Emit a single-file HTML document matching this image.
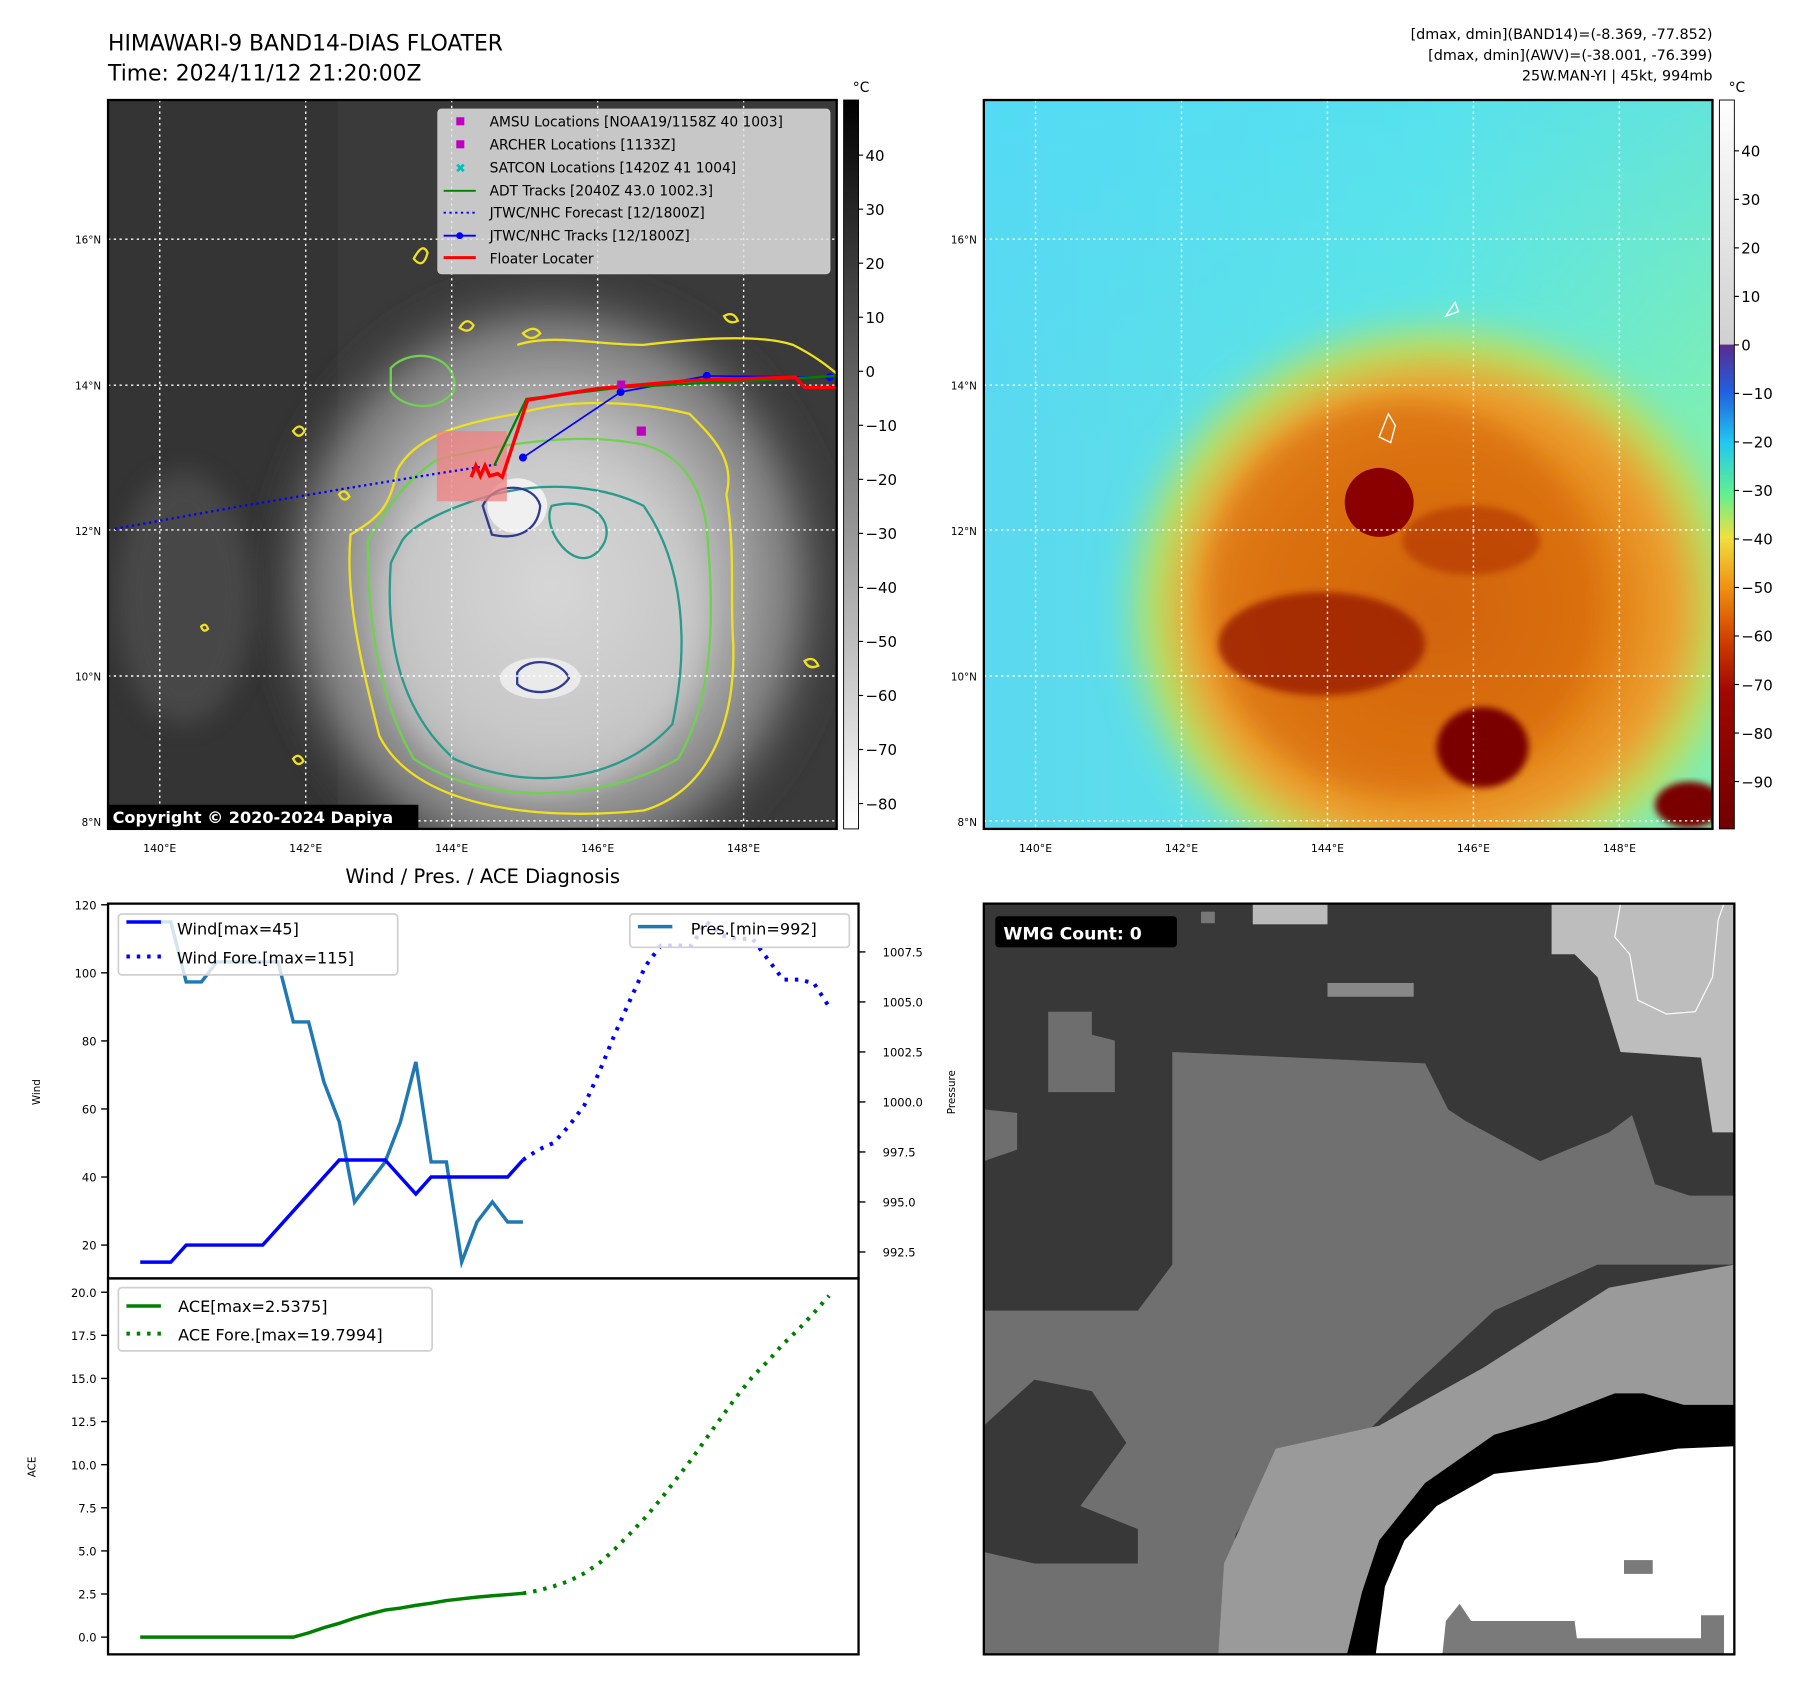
<!DOCTYPE html>
<html><head><meta charset="utf-8"><title>HIMAWARI-9 Floater</title>
<style>
html,body{margin:0;padding:0;background:#fff;}
svg{display:block;font-family:"DejaVu Sans","Liberation Sans",sans-serif;}
</style></head>
<body>
<svg id="root" width="1801" height="1690" viewBox="0 0 1567 1470" preserveAspectRatio="none" xmlns="http://www.w3.org/2000/svg">
<defs>
  <linearGradient id="cb1" x1="0" y1="0" x2="0" y2="1"><stop offset="0" stop-color="#000"/><stop offset="1" stop-color="#fff"/></linearGradient>
  <linearGradient id="cb2" x1="0" y1="0" x2="0" y2="1">
    <stop offset="0" stop-color="#ffffff"/><stop offset="0.335" stop-color="#d0d0d0"/>
    <stop offset="0.336" stop-color="#5a2a90"/><stop offset="0.40" stop-color="#2060e0"/>
    <stop offset="0.47" stop-color="#20c8f0"/><stop offset="0.54" stop-color="#60f090"/>
    <stop offset="0.60" stop-color="#f0e040"/><stop offset="0.67" stop-color="#f09010"/>
    <stop offset="0.74" stop-color="#d04000"/><stop offset="0.81" stop-color="#a00800"/>
    <stop offset="1" stop-color="#700000"/></linearGradient>
  <radialGradient id="cloud1" cx="0.5" cy="0.5" r="0.5">
    <stop offset="0" stop-color="#e0e0e0"/><stop offset="0.5" stop-color="#bdbdbd"/><stop offset="0.8" stop-color="#7a7a7a"/><stop offset="1" stop-color="#3a3a3a" stop-opacity="0"/></radialGradient>
  <radialGradient id="cloud2" cx="0.5" cy="0.5" r="0.5">
    <stop offset="0" stop-color="#c85a08"/><stop offset="0.5" stop-color="#e07c12"/><stop offset="0.72" stop-color="#eca030"/><stop offset="0.85" stop-color="#b8e060"/><stop offset="1" stop-color="#70e8c0" stop-opacity="0"/></radialGradient>
  <linearGradient id="bg2" x1="0" y1="0" x2="1" y2="0"><stop offset="0" stop-color="#5ad8f0"/><stop offset="0.6" stop-color="#60e8e0"/><stop offset="1" stop-color="#80f0b0"/></linearGradient>
  <linearGradient id="bg2top" x1="0" y1="0" x2="0" y2="1"><stop offset="0" stop-color="#50dcf8" stop-opacity="0.6"/><stop offset="1" stop-color="#50dcf8" stop-opacity="0"/></linearGradient>
  <filter id="blur8"><feGaussianBlur stdDeviation="10"/></filter>
  <filter id="blur3"><feGaussianBlur stdDeviation="3"/></filter>
  <clipPath id="clipM1"><rect x="94" y="87" width="634" height="634"/></clipPath>
  <clipPath id="clipM2"><rect x="856" y="87" width="634" height="634"/></clipPath>
  <clipPath id="clipW"><rect x="856" y="786" width="653" height="653"/></clipPath>
</defs>

<text x="94" y="44" font-size="19">HIMAWARI-9 BAND14-DIAS FLOATER</text>
<text x="94" y="70" font-size="19">Time: 2024/11/12 21:20:00Z</text>
<g font-size="12.5" text-anchor="end">
  <text x="1490" y="34">[dmax, dmin](BAND14)=(-8.369, -77.852)</text>
  <text x="1490" y="52">[dmax, dmin](AWV)=(-38.001, -76.399)</text>
  <text x="1490" y="70">25W.MAN-YI | 45kt, 994mb</text>
</g>

<!-- MAP 1 -->
<g clip-path="url(#clipM1)">
  <rect x="94" y="87" width="634" height="634" fill="#3a3a3a"/>
  <rect x="94" y="87" width="200" height="634" fill="#343434"/>
  <ellipse cx="480" cy="510" rx="260" ry="280" fill="url(#cloud1)" filter="url(#blur8)"/>
  <ellipse cx="470" cy="540" rx="140" ry="150" fill="#d0d0d0" opacity="0.5" filter="url(#blur8)"/>
  <ellipse cx="160" cy="520" rx="60" ry="110" fill="#555" opacity="0.6" filter="url(#blur8)"/>
  <ellipse cx="450" cy="440" rx="26" ry="24" fill="#f0f0f0"/>
  <ellipse cx="470" cy="590" rx="35" ry="18" fill="#eaeaea"/>
  <path d="M305,465 C300,520 315,580 330,640 C360,700 460,715 560,705 C610,690 640,640 638,560 C635,520 640,480 632,430 C640,400 620,380 600,360 C560,350 500,345 450,360 C400,368 360,380 345,410 C340,440 330,450 305,465 Z" fill="none" stroke="#f0e020" stroke-width="2"/>
  <path d="M320,470 C320,540 330,610 360,660 C420,700 520,700 590,660 C625,600 620,520 615,460 C610,420 590,390 550,385 C490,375 420,390 380,400 C350,420 335,445 320,470 Z" fill="none" stroke="#70d050" stroke-width="2"/>
  <path d="M340,490 C335,560 350,620 395,660 C460,690 540,680 585,630 C600,560 595,490 560,440 C520,420 470,420 430,430 C395,440 360,455 350,470 C345,480 342,485 340,490 Z M480,440 C470,460 500,500 520,480 C540,460 520,430 480,440 Z" fill="none" stroke="#2a9a8a" stroke-width="2"/>
  <path d="M420,440 C430,418 465,420 470,440 C468,462 450,470 428,465 Z" fill="none" stroke="#303a90" stroke-width="2"/>
  <path d="M450,585 C460,570 490,575 495,590 C485,605 460,605 450,595 Z" fill="none" stroke="#303a90" stroke-width="2"/>
  <path d="M340,320 C360,300 400,310 395,340 C380,360 350,355 340,340 Z" fill="none" stroke="#70d050" stroke-width="2"/>
  <path d="M450,300 C480,290 520,300 560,300 C600,295 660,290 690,300 C710,310 722,320 728,325" fill="none" stroke="#f0e020" stroke-width="2"/>
  <path d="M360,225 q8,-15 12,-5 q-4,15 -12,5 Z M455,290 q10,-8 15,0 q-8,8 -15,0 Z M400,285 q6,-10 12,-2 q-4,8 -12,2 Z M630,275 q8,-5 12,4 q-8,4 -12,-4 Z M255,375 q6,-8 10,0 q-5,8 -10,0 Z M295,430 q5,-6 9,2 q-5,6 -9,-2 Z M700,575 q8,-5 12,4 q-8,4 -12,-4 Z M175,545 q4,-4 6,2 q-4,4 -6,-2 Z M255,660 q5,-6 9,2 q-5,6 -9,-2 Z" fill="none" stroke="#f0e020" stroke-width="2"/>
  <g stroke="#fff" stroke-width="1.2" stroke-dasharray="2,3">
    <line x1="139" y1="87" x2="139" y2="721"/><line x1="266" y1="87" x2="266" y2="721"/><line x1="393" y1="87" x2="393" y2="721"/><line x1="520" y1="87" x2="520" y2="721"/><line x1="647" y1="87" x2="647" y2="721"/>
    <line x1="94" y1="208" x2="728" y2="208"/><line x1="94" y1="335" x2="728" y2="335"/><line x1="94" y1="461" x2="728" y2="461"/><line x1="94" y1="588" x2="728" y2="588"/><line x1="94" y1="714" x2="728" y2="714"/>
  </g>
  <rect x="380" y="375" width="61" height="61" fill="#f08080" opacity="0.75"/>
  <polyline points="100,460 200,442 300,425 380,412 432,404" fill="none" stroke="#0000ff" stroke-width="2" stroke-dasharray="2,3"/>
  <polyline points="455,398 540,341 615,327 722,328" fill="none" stroke="#0000ff" stroke-width="1.5"/>
  <g fill="#0000ff"><circle cx="455" cy="398" r="3.5"/><circle cx="540" cy="341" r="3.5"/><circle cx="615" cy="327" r="3.5"/><circle cx="722" cy="328" r="3.5"/></g>
  <polyline points="430,405 458,347 540,337 728,327" fill="none" stroke="#008000" stroke-width="2"/>
  <polyline points="410,415 414,405 418,414 422,405 426,414 433,412 437,415 459,348 520,338 600,331 692,328 700,337 728,337" fill="none" stroke="#ff0000" stroke-width="3"/>
  <rect x="554" y="371" width="8" height="8" fill="#c000c0"/>
  <rect x="537" y="331" width="7" height="7" fill="#c000c0"/>
</g>
<rect x="94" y="87" width="634" height="634" fill="none" stroke="#000" stroke-width="2"/>
<g font-size="12">
  <rect x="381" y="95" width="341" height="143" rx="3" fill="#e0e0e0" fill-opacity="0.85" stroke="#ccc"/>
  <rect x="397" y="102" width="7" height="7" fill="#c000c0"/><text x="426" y="110">AMSU Locations [NOAA19/1158Z 40 1003]</text>
  <rect x="397" y="122" width="7" height="7" fill="#c000c0"/><text x="426" y="130">ARCHER Locations [1133Z]</text>
  <text x="396" y="150" fill="#00c0c0" font-size="11" font-weight="bold">✖</text><text x="426" y="150">SATCON Locations [1420Z 41 1004]</text>
  <line x1="386" y1="166" x2="414" y2="166" stroke="#008000" stroke-width="1.6"/><text x="426" y="170">ADT Tracks [2040Z 43.0 1002.3]</text>
  <line x1="386" y1="185" x2="414" y2="185" stroke="#0000ff" stroke-width="1.6" stroke-dasharray="2,3"/><text x="426" y="189">JTWC/NHC Forecast [12/1800Z]</text>
  <line x1="386" y1="205" x2="414" y2="205" stroke="#0000ff" stroke-width="1.6"/><circle cx="400" cy="205" r="3" fill="#0000ff"/><text x="426" y="209">JTWC/NHC Tracks [12/1800Z]</text>
  <line x1="386" y1="224" x2="414" y2="224" stroke="#ff0000" stroke-width="2.5"/><text x="426" y="229">Floater Locater</text>
</g>
<g>
  <rect x="94" y="700" width="270" height="21" fill="#000"/>
  <text x="98" y="716" font-size="14" font-weight="bold" fill="#fff">Copyright © 2020-2024 Dapiya</text>
</g>

<!-- MAP 2 -->
<g clip-path="url(#clipM2)">
  <rect x="856" y="87" width="634" height="634" fill="url(#bg2)"/>
  <rect x="856" y="87" width="634" height="300" fill="url(#bg2top)"/>
  <ellipse cx="1250" cy="530" rx="290" ry="270" fill="url(#cloud2)" filter="url(#blur8)"/>
  <ellipse cx="1220" cy="520" rx="170" ry="170" fill="#d86a0a" opacity="0.6" filter="url(#blur8)"/>
  <ellipse cx="1150" cy="560" rx="90" ry="45" fill="#9a1a00" opacity="0.8" filter="url(#blur3)"/>
  <circle cx="1200" cy="437" r="30" fill="#8a0000"/>
  <ellipse cx="1290" cy="650" rx="40" ry="35" fill="#7a0000" filter="url(#blur3)"/>
  <ellipse cx="1470" cy="700" rx="30" ry="20" fill="#7a0000" filter="url(#blur3)"/>
  <ellipse cx="1280" cy="470" rx="60" ry="30" fill="#b03000" opacity="0.6" filter="url(#blur3)"/>
  <g stroke="#fff" stroke-width="1.2" stroke-dasharray="2,3">
    <line x1="901" y1="87" x2="901" y2="721"/><line x1="1028" y1="87" x2="1028" y2="721"/><line x1="1155" y1="87" x2="1155" y2="721"/><line x1="1282" y1="87" x2="1282" y2="721"/><line x1="1409" y1="87" x2="1409" y2="721"/>
    <line x1="856" y1="208" x2="1490" y2="208"/><line x1="856" y1="335" x2="1490" y2="335"/><line x1="856" y1="461" x2="1490" y2="461"/><line x1="856" y1="588" x2="1490" y2="588"/><line x1="856" y1="714" x2="1490" y2="714"/>
  </g>
  <path d="M1200,380 l8,-20 l6,10 l-4,15 z M1258,275 l8,-12 l3,8 z" fill="none" stroke="#fff" stroke-width="1.2"/>
</g>
<rect x="856" y="87" width="634" height="634" fill="none" stroke="#000" stroke-width="2"/>

<rect x="734" y="87" width="13" height="634" fill="url(#cb1)" stroke="#000" stroke-width="0.8"/>
<text x="742" y="80" font-size="12">°C</text>
<rect x="1496" y="87" width="13" height="634" fill="url(#cb2)" stroke="#000" stroke-width="0.8"/>
<text x="1504" y="80" font-size="12">°C</text>

<g id="dyn"></g>

<rect x="94" y="786" width="653" height="326" fill="none" stroke="#000" stroke-width="2"/>
<rect x="94" y="1112" width="653" height="327" fill="none" stroke="#000" stroke-width="2"/>
<text x="420" y="768" font-size="17" text-anchor="middle">Wind / Pres. / ACE Diagnosis</text>
<text transform="translate(35,950) rotate(-90)" font-size="9" text-anchor="middle">Wind</text>
<text transform="translate(831,950) rotate(-90)" font-size="9" text-anchor="middle">Pressure</text>
<text transform="translate(31,1276) rotate(-90)" font-size="9" text-anchor="middle">ACE</text>

<g clip-path="url(#clipW)">
  <rect x="856" y="786" width="653" height="653" fill="#383838"/>
  <rect x="1090" y="786" width="65" height="18" fill="#bbbbbb"/>
  <rect x="1045" y="793" width="12" height="10" fill="#777"/>
  <rect x="1155" y="855" width="75" height="12" fill="#888"/>
  <polygon points="1350,786 1509,786 1509,985 1490,985 1480,920 1410,915 1390,850 1370,830 1350,830" fill="#bdbdbd"/>
  <polygon points="912,880 950,880 950,900 970,905 970,950 912,950" fill="#6e6e6e"/>
  <polygon points="856,965 885,968 885,1000 856,1010" fill="#6e6e6e"/>
  <polygon points="1020,915 1240,925 1260,965 1275,975 1340,1010 1400,985 1420,970 1440,1030 1470,1040 1509,1040 1509,1100 1390,1100 1300,1140 1230,1205 1190,1245 1120,1260 1075,1335 1060,1439 856,1439 856,1140 990,1140 1020,1100" fill="#707070"/>
  <polygon points="856,1240 900,1200 950,1210 980,1255 940,1310 990,1330 990,1360 900,1360 856,1350" fill="#383838"/>
  <polygon points="1060,1439 1065,1360 1110,1260 1200,1240 1290,1190 1400,1120 1509,1100 1509,1225 1400,1230 1300,1250 1240,1290 1200,1340 1190,1420 1172,1439" fill="#9a9a9a"/>
  <polygon points="1172,1439 1185,1385 1200,1340 1240,1290 1300,1248 1345,1235 1405,1212 1430,1212 1465,1222 1509,1222 1509,1258 1460,1260 1390,1272 1300,1282 1250,1310 1222,1340 1205,1380 1197,1439" fill="#000"/>
  <polygon points="1197,1439 1205,1380 1222,1340 1250,1310 1300,1282 1390,1272 1460,1260 1509,1258 1509,1439" fill="#fff"/>
  <polygon points="1255,1439 1258,1410 1270,1395 1280,1410 1370,1410 1372,1425 1480,1425 1480,1405 1500,1405 1500,1439" fill="#7a7a7a"/>
  <rect x="1413" y="1357" width="25" height="12" fill="#7a7a7a"/>
  <path d="M1410,786 L1405,815 L1418,830 L1425,870 L1450,882 L1475,880 L1490,850 L1495,800 L1500,786" fill="none" stroke="#fff" stroke-width="1"/>
</g>
<rect x="856" y="786" width="653" height="653" fill="none" stroke="#000" stroke-width="2"/>
<g>
  <rect x="866" y="797" width="158" height="27" rx="3" fill="#000"/>
  <text x="873" y="817" font-size="15" font-weight="bold" fill="#fff">WMG Count: 0</text>
</g>

<g font-size="14">
  <rect x="103" y="795" width="243" height="53" rx="3" fill="#fff" fill-opacity="0.8" stroke="#d0d0d0" stroke-width="1.5"/>
  <line x1="110" y1="802" x2="140" y2="802" stroke="#0000ff" stroke-width="3"/><text x="154" y="813">Wind[max=45]</text>
  <line x1="110" y1="832" x2="140" y2="832" stroke="#0000ff" stroke-width="3.5" stroke-dasharray="3,6"/><text x="154" y="838">Wind Fore.[max=115]</text>
</g>
<g font-size="14">
  <rect x="548" y="795" width="191" height="29" rx="3" fill="#fff" fill-opacity="0.8" stroke="#d0d0d0" stroke-width="1.5"/>
  <line x1="555" y1="806" x2="585" y2="806" stroke="#1f77b4" stroke-width="3"/><text x="601" y="813">Pres.[min=992]</text>
</g>
<g font-size="14">
  <rect x="103" y="1120" width="273" height="55" rx="3" fill="#fff" fill-opacity="0.8" stroke="#d0d0d0" stroke-width="1.5"/>
  <line x1="110" y1="1136" x2="140" y2="1136" stroke="#008000" stroke-width="3"/><text x="155" y="1141">ACE[max=2.5375]</text>
  <line x1="110" y1="1160" x2="140" y2="1160" stroke="#008000" stroke-width="3.5" stroke-dasharray="3,6"/><text x="155" y="1166">ACE Fore.[max=19.7994]</text>
</g>
</svg>
<script>
var obsHours = [0,6,12,18,24,30,36,42,48,54,60,66,72,78,84,90,96,102,108,114,120,126,132,138,144,150];
var windObs = [15,15,15,20,20,20,20,20,20,25,30,35,40,45,45,45,45,40,35,40,40,40,40,40,40,45];
var presObs = [1009,1009,1009,1006,1006,1007,1007,1007,1007,1007,1004,1004,1001,999,995,996,997,999,1002,997,997,992,994,995,994,994];
var aceObs = [0,0,0,0,0,0,0,0,0,0,0,0.25,0.55,0.8,1.1,1.35,1.57,1.69,1.84,1.97,2.12,2.22,2.32,2.4,2.47,2.54];
var foreHours = [150,156,162,168,174,180,186,192,198,204,210,216,222,228,234,240,246,252,258,264,270];
var windFore = [45,48,50,55,61,71,82,92,102,108,108,108,115,111,110,110,104,98,98,97,90];
var aceFore = [2.54,2.7,2.95,3.25,3.7,4.3,5.1,6.0,6.95,8.0,9.15,10.3,11.55,12.8,14.0,15.1,16.0,17.0,17.85,18.8,19.8];
var windTicks = [20,40,60,80,100,120];
var presTicks = [992.5,995.0,997.5,1000.0,1002.5,1005.0,1007.5];
var aceTicks = [0,2.5,5,7.5,10,12.5,15,17.5,20];
var cb1Ticks = [40,30,20,10,0,-10,-20,-30,-40,-50,-60,-70,-80];
var cb2Ticks = [40,30,20,10,0,-10,-20,-30,-40,-50,-60,-70,-80,-90];
var latLabels = [16,14,12,10,8];
var lonLabels = [140,142,144,146,148];

function xT(h){ return 122 + h*2.22; }
function yWind(v){ return 1083 - (v-20)*2.96; }
function yPres(p){ return 1089 - (p-992.5)*17.4; }
function yAce(a){ return 1424 - a*15; }
function yCb1(v){ return 87 + (50.2 - v)*4.7; }
function yCb2(v){ return 300 - v*4.22; }
function xLon(l){ return 139 + (l-140)*63.5; }
function yLat(l){ return 208 + (16-l)*63.3; }

var NS = "http://www.w3.org/2000/svg";
var dyn = document.getElementById('dyn');
function mk(tag, attrs){ var e=document.createElementNS(NS,tag); for(var k in attrs){ e.setAttribute(k, attrs[k]); } dyn.appendChild(e); return e; }
function pts(xs, ys, fy){ var s=[]; for(var i=0;i<xs.length;i++){ s.push(xT(xs[i]).toFixed(1)+','+fy(ys[i]).toFixed(1)); } return s.join(' '); }

var l;
l = mk('polyline',{points:pts(obsHours,presObs,yPres),fill:'none',stroke:'#1f77b4','stroke-width':3});


l = mk('polyline',{points:pts(obsHours,windObs,yWind),fill:'none',stroke:'#0000ff','stroke-width':3});


l = mk('polyline',{points:pts(foreHours,windFore,yWind),fill:'none',stroke:'#0000ff','stroke-width':3.5,'stroke-dasharray':'3,6'});


l = mk('polyline',{points:pts(obsHours,aceObs,yAce),fill:'none',stroke:'#008000','stroke-width':3});


l = mk('polyline',{points:pts(foreHours,aceFore,yAce),fill:'none',stroke:'#008000','stroke-width':3.5,'stroke-dasharray':'3,6'});



var i, y, t, tk, x;
for(i=0;i<windTicks.length;i++){
  y = yWind(windTicks[i]);
  tk = mk('line',{x1:88,y1:y,x2:94,y2:y,stroke:'#000','stroke-width':1.2});
  
  
  t = mk('text',{x:84,y:y+4,'font-size':10,'text-anchor':'end'}); t.textContent = windTicks[i];
  
  
}
for(i=0;i<presTicks.length;i++){
  y = yPres(presTicks[i]);
  tk = mk('line',{x1:747,y1:y,x2:753,y2:y,stroke:'#000','stroke-width':1.2});
  
  
  t = mk('text',{x:768,y:y+4,'font-size':10}); t.textContent = presTicks[i].toFixed(1);
  
  
}
for(i=0;i<aceTicks.length;i++){
  y = yAce(aceTicks[i]);
  tk = mk('line',{x1:88,y1:y,x2:94,y2:y,stroke:'#000','stroke-width':1.2});
  
  
  t = mk('text',{x:84,y:y+4,'font-size':10,'text-anchor':'end'}); t.textContent = aceTicks[i].toFixed(1);
  
  
}
for(i=0;i<cb1Ticks.length;i++){
  y = yCb1(cb1Ticks[i]);
  tk = mk('line',{x1:747,y1:y,x2:751,y2:y,stroke:'#000','stroke-width':1});
  
  
  t = mk('text',{x:753,y:y+5,'font-size':13}); t.textContent = String(cb1Ticks[i]).replace('-','\u2212');
  
  
}
for(i=0;i<cb2Ticks.length;i++){
  y = yCb2(cb2Ticks[i]);
  tk = mk('line',{x1:1509,y1:y,x2:1513,y2:y,stroke:'#000','stroke-width':1});
  
  
  t = mk('text',{x:1515,y:y+5,'font-size':13}); t.textContent = String(cb2Ticks[i]).replace('-','\u2212');
  
  
}
for(i=0;i<latLabels.length;i++){
  y = yLat(latLabels[i]);
  t = mk('text',{x:88,y:y+4,'font-size':9,'text-anchor':'end'}); t.textContent = latLabels[i]+'°N';
  
  
  t = mk('text',{x:850,y:y+4,'font-size':9,'text-anchor':'end'}); t.textContent = latLabels[i]+'°N';
  
  
}
for(i=0;i<lonLabels.length;i++){
  x = xLon(lonLabels[i]);
  t = mk('text',{x:x,y:741,'font-size':9.5,'text-anchor':'middle'}); t.textContent = lonLabels[i]+'°E';
  
  
  t = mk('text',{x:x+762,y:741,'font-size':9.5,'text-anchor':'middle'}); t.textContent = lonLabels[i]+'°E';
  
  
}
</script>
</body></html>
